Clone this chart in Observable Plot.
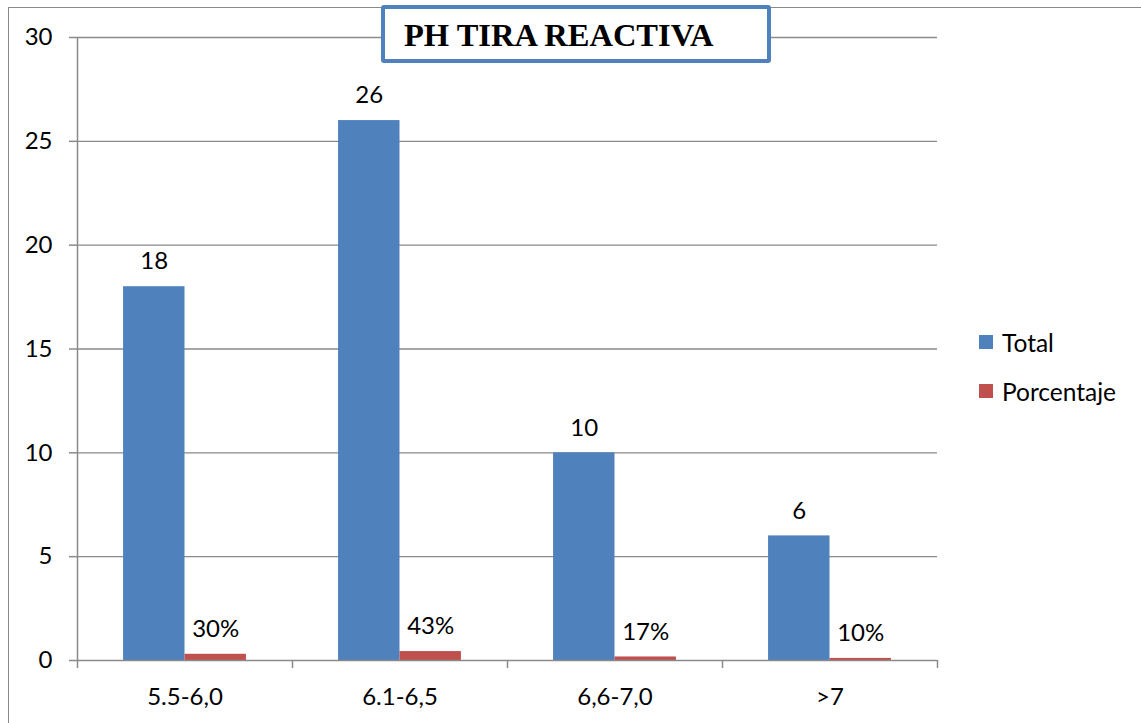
<!DOCTYPE html>
<html>
<head>
<meta charset="utf-8">
<script src="https://cdn.jsdelivr.net/npm/d3@7"></script>
<script src="https://cdn.jsdelivr.net/npm/@observablehq/plot@0.6"></script>
<style>
  html, body { margin: 0; padding: 0; background: #fff; }
  #chart { position: relative; width: 1141px; height: 723px; overflow: hidden; font-family: Lato, "Noto Sans", sans-serif; }
  #chart svg { position: absolute; left: 0; top: 0; }
  .outline { position: absolute; left: 8px; top: 7px; width: 1200px; height: 800px;
             border-left: 1.5px solid #8a8a8a; border-top: 1.5px solid #8a8a8a; }
  .title { position: absolute; left: 381px; top: 5px; width: 363px; height: 50px;
           border: 4px solid #4F81BD; border-radius: 3px; background: #fff;
           font-family: "Liberation Serif", "Times New Roman", serif; font-weight: bold;
           font-size: 32.5px; line-height: 52px; padding-left: 19px; box-sizing: content-box;
           color: #000; white-space: nowrap; }
  .legend { position: absolute; left: 979px; top: 330px; font-size: 24.5px; color: #000; }
  .legend .item { display: flex; align-items: center; height: 24px; margin-bottom: 25px; }
  .legend .sw { width: 14px; height: 14px; margin-right: 9px; }
</style>
</head>
<body>
<div id="chart"></div>
<script>
// pH measured with reagent strip: counts and share per range
const categories = ["5.5-6,0", "6.1-6,5", "6,6-7,0", ">7"];
const totals = [18, 26, 10, 6];
const percentages = [0.30, 0.43, 0.17, 0.10];
const percentLabels = ["30%", "43%", "17%", "10%"];
const series = ["Total", "Porcentaje"];
const colors = ["#4F81BD", "#C0504D"];
const yTicks = [0, 5, 10, 15, 20, 25, 30];

// Clustered columns: two bars per category, gap of 150% of a bar width
const gap = 1.5;
const unit = 1 / (series.length + gap);
const rows = [];
categories.forEach((cat, i) => {
  rows.push({cat, i, s: 0, value: totals[i], label: String(totals[i])});
  rows.push({cat, i, s: 1, value: percentages[i], label: percentLabels[i]});
});
const x1 = d => d.i + unit * (gap / 2 + d.s);
const x2 = d => d.i + unit * (gap / 2 + d.s + 1);
const xc = d => d.i + unit * (gap / 2 + d.s + 0.5);

const grid = "#8a8a8a";
const fontSize = 24;

const plot = Plot.plot({
  width: 1141,
  height: 723,
  marginLeft: 77,
  marginRight: 204,
  marginTop: 37,
  marginBottom: 63,
  style: {fontFamily: "Lato, 'Noto Sans', sans-serif", background: "transparent", color: "#000"},
  x: {domain: [0, categories.length]},
  y: {domain: [0, 30]},
  marks: [
    Plot.ruleY(yTicks.filter(t => t > 0), {stroke: grid, strokeWidth: 1.3}),
    Plot.rectY(rows, {x1, x2, y1: 0, y2: "value", fill: d => colors[d.s]}),
    Plot.ruleY([0], {stroke: grid, strokeWidth: 1.5}),
    Plot.ruleX([0], {stroke: grid, strokeWidth: 1.5}),
    Plot.axisY({ticks: yTicks, tickSize: 8, tickPadding: 17, stroke: grid, strokeWidth: 1.5,
                fontSize, label: null, tickFormat: d => String(d)}),
    Plot.axisX({ticks: d3.range(categories.length + 1), tickSize: 8, tickFormat: () => "",
                stroke: grid, strokeWidth: 1.5, label: null}),
    Plot.text(categories, {x: (d, i) => i + 0.5, y: 0, dy: 37, text: d => d,
                           lineAnchor: "middle", fontSize, fill: "#000"}),
    Plot.text(rows, {x: xc, y: "value", dy: -25, text: "label", lineAnchor: "middle",
                     fontSize, fill: "#000"})
  ]
});

const root = document.getElementById("chart");
root.appendChild(plot);

const outline = document.createElement("div");
outline.className = "outline";
root.appendChild(outline);

const title = document.createElement("div");
title.className = "title";
title.textContent = "PH TIRA REACTIVA";
root.appendChild(title);

const legend = document.createElement("div");
legend.className = "legend";
series.forEach((name, k) => {
  const item = document.createElement("div");
  item.className = "item";
  const sw = document.createElement("span");
  sw.className = "sw";
  sw.style.background = colors[k];
  const label = document.createElement("span");
  label.textContent = name;
  item.appendChild(sw);
  item.appendChild(label);
  legend.appendChild(item);
});
root.appendChild(legend);
</script>
</body>
</html>
